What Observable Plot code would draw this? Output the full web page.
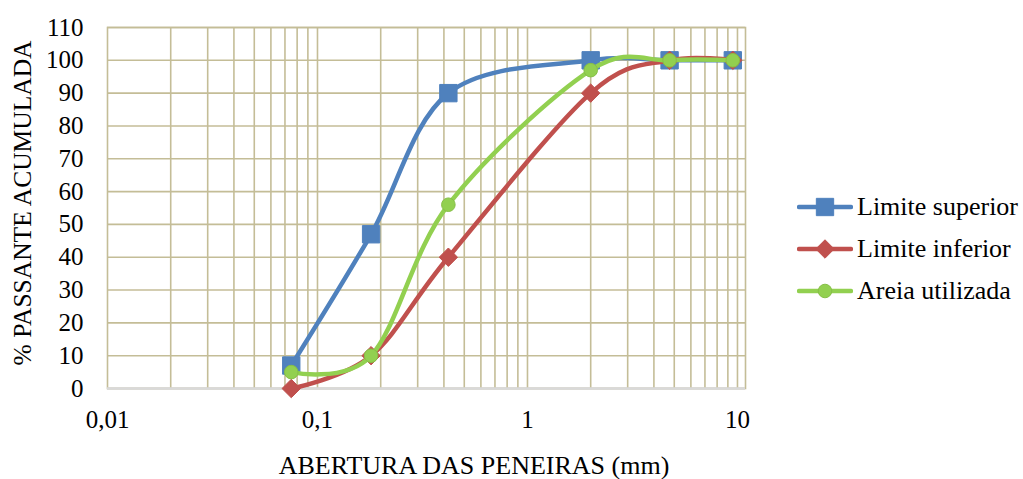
<!DOCTYPE html>
<html>
<head>
<meta charset="utf-8">
<script src="https://cdn.jsdelivr.net/npm/d3@7"></script>
<script src="https://cdn.jsdelivr.net/npm/@observablehq/plot@0.6"></script>
<style>
  html, body { margin: 0; padding: 0; background: #fff; }
  #wrap { position: relative; width: 1023px; height: 479px; font-family: "Liberation Serif", serif; }
  #legend { position: absolute; left: 797px; top: 186px; font-size: 26px; color: #000; }
  .row { display: flex; align-items: center; height: 42px; white-space: nowrap; line-height: 1; }
  .row svg { margin-right: 4px; }
  .axlab { position: absolute; color: #000; white-space: nowrap; line-height: 1; }
</style>
</head>
<body>
<div id="wrap"></div>
<script>
// ---- data ----
const sieveSizes      = [0.075, 0.18, 0.42, 2.0, 4.75, 9.5];   // abertura (mm)
const limiteSuperior  = [7, 47, 90, 100, 100, 100];
const limiteInferior  = [0, 10, 40, 90, 100, 100];
const areiaUtilizada  = [5, 10, 56, 97, 100, 100];
const seriesNames     = ["Limite superior", "Limite inferior", "Areia utilizada"];
const seriesColors    = ["#4f81bd", "#c0504d", "#92d050"];
const seriesSymbols   = ["square", "diamond2", "circle"];
const xTickValues     = [0.01, 0.1, 1, 10];
const yTickValues     = [0, 10, 20, 30, 40, 50, 60, 70, 80, 90, 100, 110];
const xGridValues     = [0.02,0.03,0.04,0.05,0.06,0.07,0.08,0.09,0.1,
                         0.2,0.3,0.4,0.5,0.6,0.7,0.8,0.9,1,
                         2,3,4,5,6,7,8,9,10];
const xTitle = "ABERTURA DAS PENEIRAS (mm)";
const yTitle = "% PASSANTE ACUMULADA";

const FONT = '"Liberation Serif", serif';

const allSeries = [limiteSuperior, limiteInferior, areiaUtilizada];
const tables = allSeries.map((vals, i) =>
  sieveSizes.map((x, j) => ({x, y: vals[j], serie: seriesNames[i]})));

const grid = "#c4bd97";
const marks = [
  Plot.gridX({ticks: xGridValues, stroke: grid, strokeOpacity: 1, strokeWidth: 1.6}),
  Plot.gridY({ticks: yTickValues, stroke: grid, strokeOpacity: 1, strokeWidth: 1.6}),
  Plot.frame({stroke: grid, strokeWidth: 1.6}),
  Plot.ruleY([0], {stroke: "#d9d9d9", strokeWidth: 2.5}),
  Plot.axisX({ticks: xTickValues, tickSize: 0, tickPadding: 22, fontSize: 25,
    tickFormat: d => String(d).replace(".", ","), label: null}),
  Plot.axisY({ticks: yTickValues, tickSize: 0, tickPadding: 24, fontSize: 25, label: null})
];
tables.forEach((t, i) => {
  marks.push(Plot.line(t, {x: "x", y: "y", stroke: seriesColors[i], strokeWidth: 4.5,
    curve: "cardinal", tension: 0, strokeLinecap: "round", strokeLinejoin: "round"}));
  const r = i === 0 ? 9.8 : (i === 1 ? 8.3 : 6.8);
  marks.push(Plot.dot(t, {x: "x", y: "y", symbol: () => seriesSymbols[i], r,
    fill: seriesColors[i], stroke: i === 2 ? "#86bf47" : seriesColors[i], strokeWidth: 1}));
});

const chart = Plot.plot({
  width: 1023, height: 479,
  marginLeft: 107, marginRight: 278, marginTop: 27, marginBottom: 91,
  style: {fontFamily: FONT, fontSize: "25px", color: "#000", background: "#fff"},
  x: {type: "log", domain: [0.01, 10.92]},
  y: {domain: [0, 110]},
  marks
});
const wrap = document.getElementById("wrap");
wrap.appendChild(chart);

// axis titles
const xl = document.createElement("div");
xl.className = "axlab"; xl.textContent = xTitle;
xl.style.fontSize = "26px";
xl.style.left = "474px"; xl.style.top = "466px";
xl.style.transform = "translate(-50%, -50%)";
wrap.appendChild(xl);
const yl = document.createElement("div");
yl.className = "axlab"; yl.textContent = yTitle;
yl.style.fontSize = "25.5px";
yl.style.left = "23px"; yl.style.top = "203px";
yl.style.transform = "translate(-50%, -50%) rotate(-90deg)";
wrap.appendChild(yl);

// legend
const legend = document.createElement("div");
legend.id = "legend";
seriesNames.forEach((name, i) => {
  const row = document.createElement("div");
  row.className = "row";
  const s = d3.create("svg").attr("width", 56).attr("height", 22);
  s.append("line").attr("x1", 2).attr("x2", 54).attr("y1", 11).attr("y2", 11)
    .attr("stroke", seriesColors[i]).attr("stroke-width", 4.5).attr("stroke-linecap", "round");
  const sym = i === 0 ? d3.symbolSquare : (i === 1 ? d3.symbolDiamond2 : d3.symbolCircle);
  const size = i === 0 ? 300 : (i === 1 ? 216 : 145);
  s.append("path").attr("transform", "translate(28,11)")
    .attr("d", d3.symbol(sym, size)()).attr("fill", seriesColors[i])
    .attr("stroke", i === 2 ? "#86bf47" : seriesColors[i]);
  row.appendChild(s.node());
  const span = document.createElement("span");
  span.textContent = name;
  row.appendChild(span);
  legend.appendChild(row);
});
wrap.appendChild(legend);
</script>
</body>
</html>
